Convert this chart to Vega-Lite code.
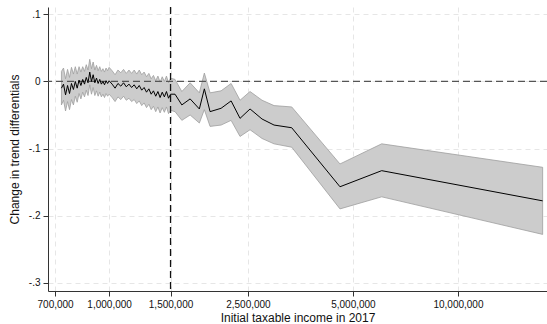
{
  "$schema": "https://vega.github.io/schema/vega-lite/v6.json",
  "width": 499,
  "height": 284,
  "autosize": {"type": "none"},
  "padding": {"left": 48, "top": 7, "right": 0, "bottom": 33},
  "background": "white",
  "config": {
    "view": {"stroke": null},
    "font": "Liberation Sans",
    "axis": {
      "labelFont": "Liberation Sans",
      "titleFont": "Liberation Sans",
      "labelFontSize": 10,
      "titleFontSize": 12,
      "titleFontWeight": "normal",
      "labelColor": "#111",
      "titleColor": "#111",
      "domainColor": "#333",
      "tickColor": "#333",
      "tickSize": 5,
      "gridColor": "#e6e6e6",
      "gridDash": [5, 4],
      "gridWidth": 1
    }
  },
  "datasets": {
    "est": [
      {"inc": 730000, "b": -0.010, "lo": -0.035, "hi": 0.015},
      {"inc": 740000, "b": -0.004, "lo": -0.028, "hi": 0.020},
      {"inc": 750000, "b": -0.020, "lo": -0.044, "hi": 0.004},
      {"inc": 760000, "b": -0.006, "lo": -0.030, "hi": 0.018},
      {"inc": 770000, "b": -0.018, "lo": -0.042, "hi": 0.006},
      {"inc": 780000, "b": -0.003, "lo": -0.027, "hi": 0.021},
      {"inc": 790000, "b": -0.012, "lo": -0.035, "hi": 0.011},
      {"inc": 800000, "b": 0.000, "lo": -0.022, "hi": 0.022},
      {"inc": 810000, "b": -0.010, "lo": -0.031, "hi": 0.011},
      {"inc": 820000, "b": 0.002, "lo": -0.018, "hi": 0.022},
      {"inc": 830000, "b": -0.006, "lo": -0.026, "hi": 0.014},
      {"inc": 840000, "b": 0.003, "lo": -0.016, "hi": 0.022},
      {"inc": 850000, "b": -0.004, "lo": -0.023, "hi": 0.015},
      {"inc": 860000, "b": 0.006, "lo": -0.013, "hi": 0.025},
      {"inc": 870000, "b": -0.002, "lo": -0.021, "hi": 0.017},
      {"inc": 880000, "b": 0.014, "lo": -0.005, "hi": 0.033},
      {"inc": 890000, "b": 0.000, "lo": -0.019, "hi": 0.019},
      {"inc": 900000, "b": 0.010, "lo": -0.009, "hi": 0.029},
      {"inc": 910000, "b": -0.002, "lo": -0.021, "hi": 0.017},
      {"inc": 920000, "b": 0.005, "lo": -0.014, "hi": 0.024},
      {"inc": 930000, "b": -0.003, "lo": -0.022, "hi": 0.016},
      {"inc": 940000, "b": 0.003, "lo": -0.016, "hi": 0.022},
      {"inc": 950000, "b": -0.004, "lo": -0.023, "hi": 0.015},
      {"inc": 960000, "b": 0.000, "lo": -0.019, "hi": 0.019},
      {"inc": 970000, "b": -0.005, "lo": -0.024, "hi": 0.014},
      {"inc": 980000, "b": 0.001, "lo": -0.018, "hi": 0.020},
      {"inc": 990000, "b": -0.003, "lo": -0.022, "hi": 0.016},
      {"inc": 1000000, "b": 0.001, "lo": -0.019, "hi": 0.021},
      {"inc": 1020000, "b": -0.004, "lo": -0.024, "hi": 0.016},
      {"inc": 1040000, "b": -0.010, "lo": -0.030, "hi": 0.010},
      {"inc": 1060000, "b": -0.003, "lo": -0.023, "hi": 0.017},
      {"inc": 1080000, "b": -0.007, "lo": -0.027, "hi": 0.013},
      {"inc": 1100000, "b": -0.002, "lo": -0.022, "hi": 0.018},
      {"inc": 1120000, "b": -0.008, "lo": -0.028, "hi": 0.012},
      {"inc": 1140000, "b": -0.004, "lo": -0.025, "hi": 0.017},
      {"inc": 1160000, "b": -0.009, "lo": -0.030, "hi": 0.012},
      {"inc": 1180000, "b": -0.005, "lo": -0.027, "hi": 0.017},
      {"inc": 1200000, "b": -0.011, "lo": -0.033, "hi": 0.011},
      {"inc": 1220000, "b": -0.006, "lo": -0.029, "hi": 0.017},
      {"inc": 1240000, "b": -0.013, "lo": -0.036, "hi": 0.010},
      {"inc": 1260000, "b": -0.009, "lo": -0.032, "hi": 0.014},
      {"inc": 1280000, "b": -0.016, "lo": -0.039, "hi": 0.007},
      {"inc": 1300000, "b": -0.011, "lo": -0.034, "hi": 0.012},
      {"inc": 1320000, "b": -0.019, "lo": -0.042, "hi": 0.004},
      {"inc": 1340000, "b": -0.014, "lo": -0.037, "hi": 0.009},
      {"inc": 1360000, "b": -0.022, "lo": -0.045, "hi": 0.001},
      {"inc": 1380000, "b": -0.015, "lo": -0.038, "hi": 0.008},
      {"inc": 1400000, "b": -0.024, "lo": -0.047, "hi": -0.001},
      {"inc": 1420000, "b": -0.016, "lo": -0.039, "hi": 0.007},
      {"inc": 1440000, "b": -0.023, "lo": -0.046, "hi": 0.000},
      {"inc": 1460000, "b": -0.015, "lo": -0.038, "hi": 0.008},
      {"inc": 1480000, "b": -0.025, "lo": -0.048, "hi": -0.002},
      {"inc": 1500000, "b": -0.019, "lo": -0.043, "hi": 0.005},
      {"inc": 1545000, "b": -0.019, "lo": -0.045, "hi": 0.003},
      {"inc": 1616000, "b": -0.035, "lo": -0.058, "hi": -0.015},
      {"inc": 1707000, "b": -0.026, "lo": -0.050, "hi": -0.002},
      {"inc": 1814000, "b": -0.041, "lo": -0.062, "hi": -0.017},
      {"inc": 1875000, "b": -0.011, "lo": -0.042, "hi": 0.0125},
      {"inc": 1947000, "b": -0.045, "lo": -0.067, "hi": -0.017},
      {"inc": 2094000, "b": -0.040, "lo": -0.065, "hi": -0.014},
      {"inc": 2237000, "b": -0.029, "lo": -0.058, "hi": -0.003},
      {"inc": 2373000, "b": -0.055, "lo": -0.082, "hi": -0.028},
      {"inc": 2535000, "b": -0.041, "lo": -0.072, "hi": -0.015},
      {"inc": 2744000, "b": -0.056, "lo": -0.085, "hi": -0.028},
      {"inc": 2970000, "b": -0.065, "lo": -0.093, "hi": -0.036},
      {"inc": 3338000, "b": -0.069, "lo": -0.098, "hi": -0.038},
      {"inc": 4590000, "b": -0.157, "lo": -0.190, "hi": -0.123},
      {"inc": 6045000, "b": -0.133, "lo": -0.172, "hi": -0.093},
      {"inc": 17490000, "b": -0.178, "lo": -0.228, "hi": -0.128}
    ]
  },
  "layer": [
    {
      "data": {"name": "est"},
      "mark": {"type": "area", "fill": "#cccccc", "stroke": "#9e9e9e", "strokeWidth": 0.8},
      "encoding": {
        "x": {
          "field": "inc", "type": "quantitative",
          "scale": {"type": "log", "domain": [668000, 18000000], "nice": false},
          "axis": {
            "title": "Initial taxable income in 2017",
            "values": [700000, 1000000, 1500000, 2500000, 5000000, 10000000],
            "format": ",d",
            "labelPadding": 3,
            "titlePadding": 3,
            "grid": true
          }
        },
        "y": {
          "field": "lo", "type": "quantitative",
          "scale": {"domain": [-0.3124, 0.111], "nice": false, "zero": false},
          "axis": {
            "title": "Change in trend differentials",
            "values": [-0.3, -0.2, -0.1, 0, 0.1],
            "labelExpr": "datum.value > 0.05 ? '.1' : datum.value > -0.05 ? '0' : datum.value > -0.15 ? '-.1' : datum.value > -0.25 ? '-.2' : '-.3'",
            "labelPadding": 3,
            "titlePadding": 7,
            "grid": true
          }
        },
        "y2": {"field": "hi"}
      }
    },
    {
      "data": {"values": [{"yref": 0}]},
      "mark": {"type": "rule", "color": "#555555", "strokeWidth": 1.3, "strokeDash": [7, 4]},
      "encoding": {"y": {"field": "yref", "type": "quantitative"}}
    },
    {
      "data": {"values": [{"xref": 1500000}]},
      "mark": {"type": "rule", "color": "#111111", "strokeWidth": 1.3, "strokeDash": [7, 4]},
      "encoding": {"x": {"field": "xref", "type": "quantitative"}}
    },
    {
      "data": {"name": "est"},
      "mark": {"type": "line", "color": "#000000", "strokeWidth": 1},
      "encoding": {
        "x": {"field": "inc", "type": "quantitative"},
        "y": {"field": "b", "type": "quantitative"}
      }
    }
  ]
}
